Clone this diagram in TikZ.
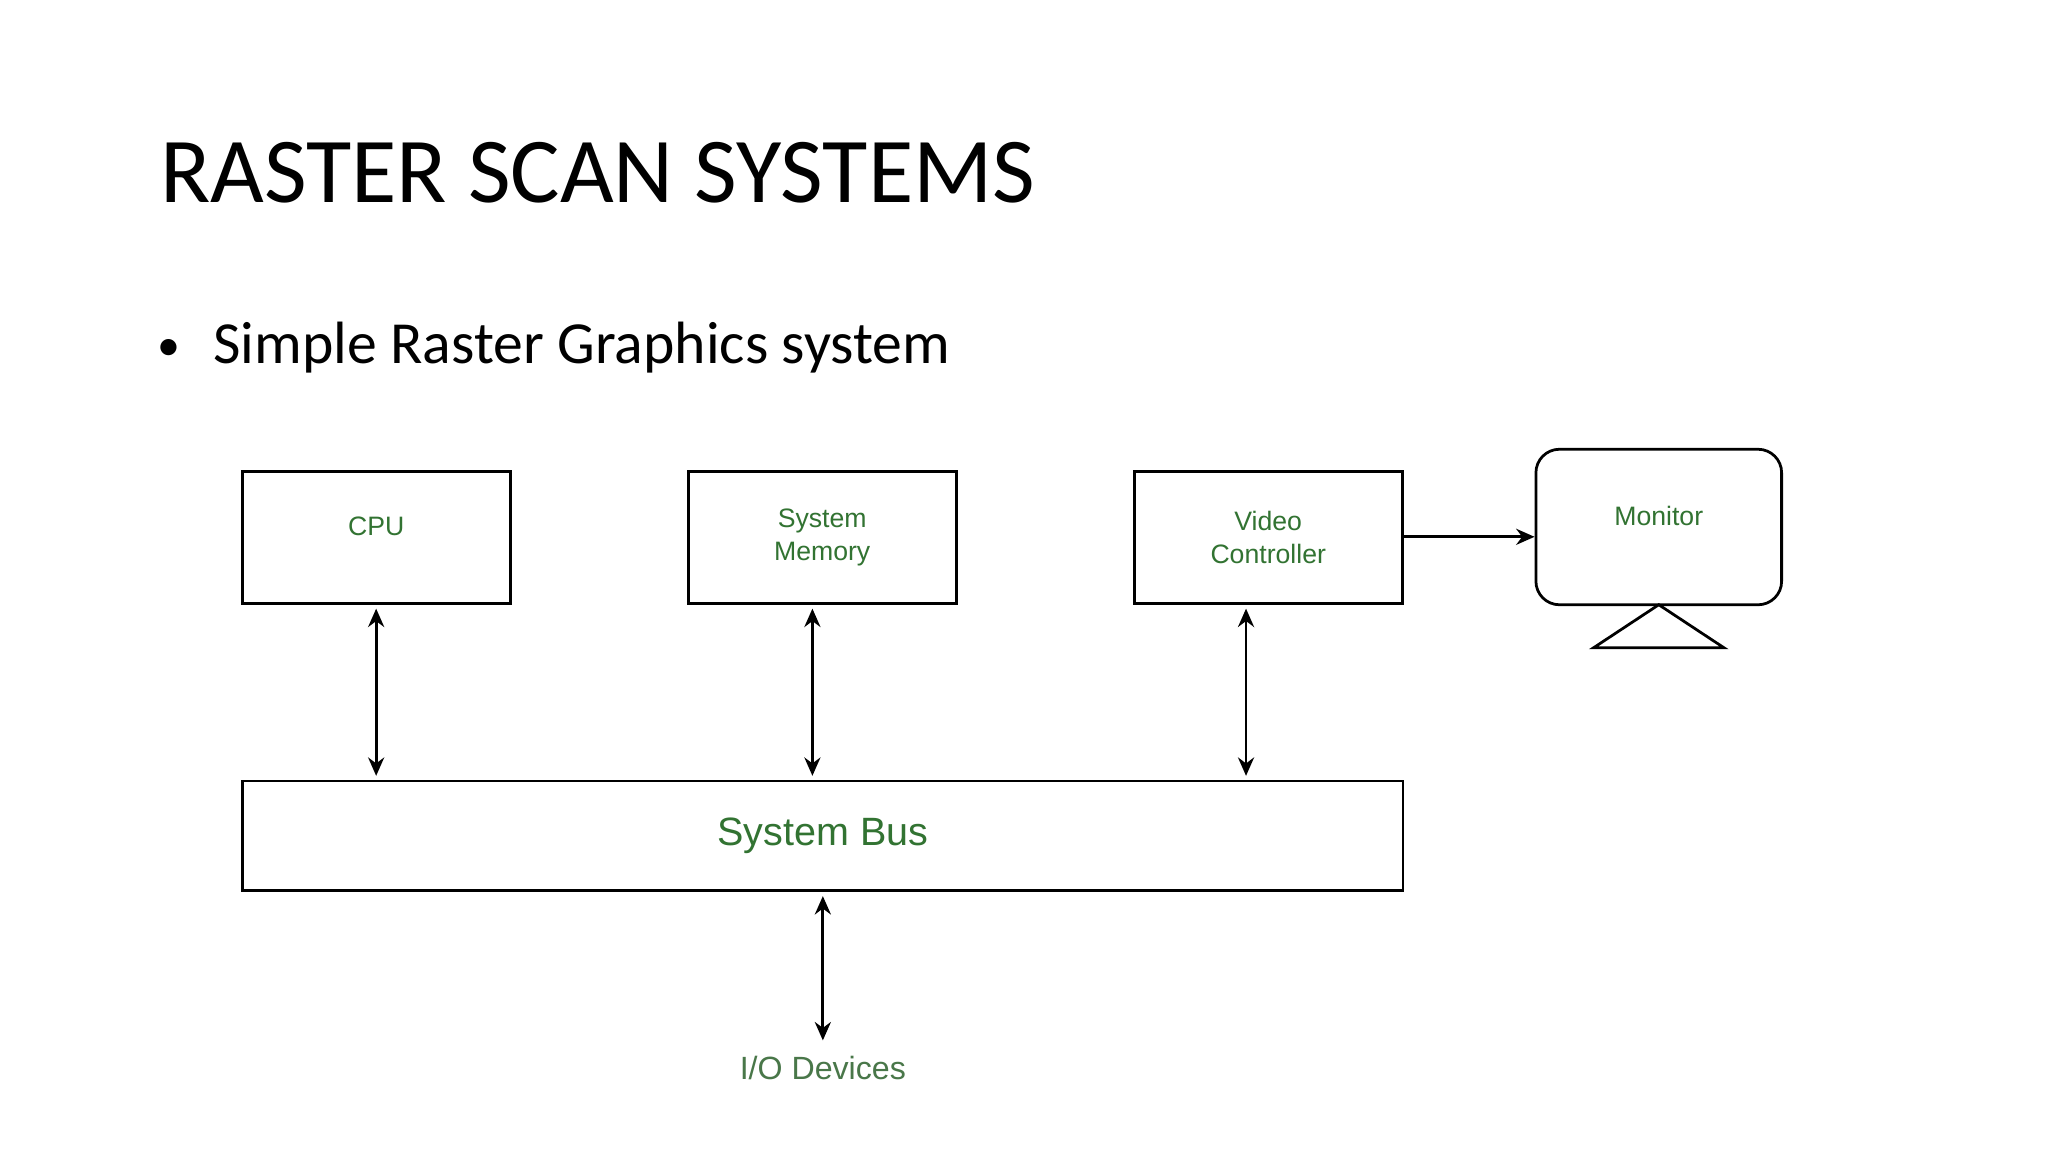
\documentclass[tikz,border=0pt]{standalone}
\usepackage{fontspec}
\setmainfont{Carlito}
\newfontfamily\arialf{Liberation Sans}
\usetikzlibrary{arrows.meta}
\definecolor{lblgreen}{RGB}{50,115,50}
\tikzset{
  box/.style={draw,line width=0.6pt,minimum width=2.05cm,minimum height=1.01cm,inner sep=0pt,font=\arialf\fontsize{5.8}{7}\selectfont,text=lblgreen,align=center},
  conn/.style={line width=0.6pt,{Stealth[length=4pt,width=3.5pt]}-{Stealth[length=4pt,width=3.5pt]}},
  oneway/.style={line width=0.6pt,-{Stealth[length=4pt,width=3.5pt]}}
}
\begin{document}
\begin{tikzpicture}[x=0.01cm,y=-0.01cm]
\useasboundingbox[fill=white] (0,0) rectangle (1568,882);
\node[anchor=base west,inner sep=0pt,font=\fontsize{20.2}{24}\selectfont] (title) at (122,155) {RASTER SCAN SYSTEMS};
\node[anchor=base west,inner sep=0pt,font=\fontsize{13}{16}\selectfont] (bullet) at (120,278) {{\fontsize{10}{12}\selectfont\raisebox{0.5pt}{\textbullet}}\hspace{0.55em}Simple Raster Graphics system};
\node[box] (cpu) at (288.5,411.5) {};
\node[font=\arialf\fontsize{5.8}{7}\selectfont,text=lblgreen] (cpul) at (288,403) {CPU};
\node[box] (mem) at (629.5,411.5) {System\\Memory};
\node[box] (vid) at (971,411.5) {Video\\Controller};
\node[box,rounded corners=0.18cm,minimum width=1.88cm,minimum height=1.19cm] (mon) at (1270,403.5) {};
\node[font=\arialf\fontsize{5.8}{7}\selectfont,text=lblgreen] (monl) at (1270,395) {Monitor};
\coordinate (tapex) at (1270,463);
\draw[line width=0.6pt] (tapex) -- (1220,496) -- (1320,496) -- cycle;
\node[box,minimum width=8.88cm,minimum height=0.84cm,font=\arialf\fontsize{8.6}{11}\selectfont] (bus) at (630,640) {System Bus};
\node[font=\arialf\fontsize{7}{9}\selectfont,text=lblgreen!70!gray] (io) at (630,818) {I/O Devices};
\draw[conn] (288,466) -- (288,594);
\draw[conn] (622,466) -- (622,594);
\draw[conn] (954,466) -- (954,594);
\draw[conn] (bus.south -| io) ++(0,3) -- (io.north);
\draw[oneway] (vid.east |- 0,411) -- (mon.west |- 0,411);
\end{tikzpicture}
\end{document}
